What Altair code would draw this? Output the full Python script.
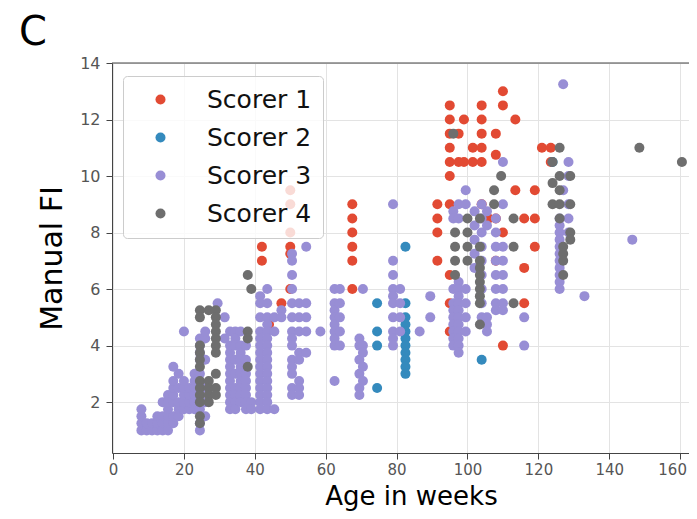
import altair as alt
import pandas as pd

# ---- data: (age in weeks, [manual FI values]) per scorer ----
scorer1 = [
    (42, [7.5, 7.0]), (44, [4.75]), (47.5, [5.5]),
    (50, [9.5, 9.0, 8.0, 7.5, 7.25, 6.0]),
    (67.5, [9.0, 8.5, 8.0, 7.5, 7.0, 6.0]),
    (91.5, [9.0, 8.5, 8.0, 7.0]),
    (95, [12.5, 12.0, 11.5, 11.0, 10.5, 10.0, 9.0, 6.5, 5.5, 4.5]),
    (97.5, [11.5, 10.5]), (99, [12.0, 10.5]), (101.5, [11.0, 10.5]),
    (104, [12.5, 12.0, 11.5, 11.0, 10.5, 9.0]), (106, [8.5]),
    (108, [11.5, 10.75, 8.5, 7.0]), (110, [13.0, 12.5, 8.0, 4.0]),
    (113.5, [12.0, 9.5]), (116, [8.5, 6.75, 5.5]), (119, [9.5, 8.5, 7.5]),
    (121, [11.0]), (123.5, [11.0, 10.5]),
]
scorer2 = [
    (74.5, [5.5, 4.5, 4.0, 2.5]),
    (82.5, [7.5, 5.5, 5.0, 4.75, 4.5, 4.25, 4.0, 3.75, 3.5, 3.25, 3.0]),
    (104, [3.5]), (124, [10.5]),
]
scorer3 = [
    (8, [1.0, 1.25, 1.5, 1.75]), (9.5, [1.0, 1.25]), (11, [1.0, 1.25]),
    (12.5, [1.0, 1.25, 1.5]), (14, [1.0, 1.25, 1.5, 2.0]),
    (15.5, [1.0, 1.25, 1.5, 1.75, 2.0, 2.25]),
    (17, [1.25, 1.5, 2.0, 2.25, 2.5, 2.75, 3.25]),
    (18.5, [1.5, 1.75, 2.0, 2.5, 3.0]),
    (20, [1.75, 2.0, 2.25, 2.5, 2.75, 4.5]),
    (21.5, [1.75, 2.0, 2.25, 2.5]),
    (23, [1.75, 2.0, 2.25, 2.5, 2.75, 3.0]),
    (24.5, [1.0, 1.25, 1.75, 2.0, 3.0, 3.5, 3.75, 4.0, 4.25]),
    (26, [1.5, 2.0, 2.5, 3.5, 4.25, 4.5]),
    (29.5, [5.5]), (31.5, [5.0, 4.25]),
    (33, [4.5, 4.0, 3.75, 3.5, 3.25, 3.0, 2.75, 2.5, 2.25, 2.0, 1.75]),
    (34.5, [4.5, 4.25, 4.0, 3.5, 3.0, 2.5, 2.25, 2.0, 1.75]),
    (36, [4.5, 4.0, 3.75, 3.5, 3.25, 3.0, 2.75, 2.5, 2.25, 2.0]),
    (37.5, [4.0, 3.5, 3.0, 2.75, 2.5, 2.25, 2.0, 1.75]),
    (39, [2.0, 1.75]),
    (41.5, [5.75, 5.5, 5.0, 4.5, 4.25, 4.0, 3.75, 3.5, 3.25, 3.0, 2.75, 2.5, 2.25, 2.0, 1.75]),
    (43.5, [6.0, 5.5, 5.0, 4.75, 4.5, 4.25, 4.0, 3.75, 3.5, 3.25, 3.0, 2.75, 2.5, 2.25, 2.0, 1.75]),
    (45.5, [5.0, 4.5, 1.75]), (47.5, [5.25, 5.0]),
    (50.5, [7.25, 7.0, 6.5, 6.0, 5.5, 5.0, 4.5, 4.25, 4.0, 3.5, 3.25, 3.0, 2.5, 2.25]),
    (52.5, [5.5, 5.0, 4.5, 3.75, 3.5, 2.75, 2.5, 2.25]),
    (54.5, [7.5, 5.5, 5.0, 4.5, 3.75]), (58.5, [4.5]),
    (62.5, [6.0, 5.5, 5.25, 5.0, 4.75, 4.5, 4.25, 4.0, 2.75]),
    (64, [6.0, 5.5, 5.0, 4.5, 4.0]),
    (69.5, [4.25, 4.0, 3.5, 3.0, 2.5, 2.25]),
    (70.5, [6.0, 4.0, 3.75, 3.25, 2.75]),
    (79, [9.0, 7.0, 6.5, 6.0, 5.75, 5.5, 5.0, 4.5, 4.25, 4.0]),
    (81, [6.0, 5.5, 5.0, 4.5]),
    (86.5, [4.5]), (89.5, [5.75, 5.0]),
    (96, [8.75, 8.5, 6.0, 5.5, 5.25, 5.0, 4.75, 4.5, 4.25, 4.0]),
    (97.5, [9.0, 8.5, 6.25, 6.0, 5.75, 5.5, 5.25, 5.0, 4.75, 4.5, 4.25, 4.0, 3.75]),
    (99.5, [9.5, 9.0, 6.0, 5.5, 5.0, 4.5]),
    (102, [8.75, 8.25, 7.75, 7.25, 6.75]),
    (104, [9.0, 8.5, 8.0, 7.5, 7.0, 6.5, 6.0, 5.5, 5.0]),
    (105.5, [8.75, 8.25, 5.0, 4.75, 4.5]),
    (108, [8.5, 8.0, 7.5, 7.0, 6.5, 6.0, 5.5, 5.25]),
    (110, [10.5, 9.0, 7.5, 7.0, 6.5, 6.0, 5.5, 5.25]),
    (116, [5.0, 4.0]),
    (126, [8.5, 8.25, 8.0, 7.75, 7.5, 7.25, 7.0, 6.75, 6.5, 6.25, 6.0]),
    (127, [13.25, 9.5]), (128.5, [10.5, 10.0, 9.0, 8.5, 8.0]),
    (133, [5.75]), (146.5, [7.75]),
]
scorer4 = [
    (24.5, [5.25, 5.0, 4.0, 3.75, 3.5, 3.25, 2.75, 2.5, 2.25, 2.0, 1.5, 1.25]),
    (27, [5.25, 2.75, 2.5, 2.25, 2.0]),
    (29, [5.25, 5.0, 4.75, 4.5, 4.25, 4.0, 3.75, 3.0, 2.5, 2.25]),
    (38, [6.5, 4.5, 4.25, 3.25]), (39, [6.0]),
    (96, [11.5]), (96.5, [8.0, 7.5, 7.0, 6.5]), (100, [8.5, 8.0, 7.5, 7.0]),
    (103.5, [8.5, 7.5, 7.0, 6.75, 6.5, 6.25, 6.0, 5.75, 5.5, 4.75]),
    (107.5, [9.5, 9.0]), (109.5, [10.0]), (113, [8.5, 7.5, 5.5]),
    (124, [10.5, 9.75, 9.0]), (126, [11.0, 10.0, 9.5, 9.0, 8.5]),
    (127, [7.5, 7.25, 7.0, 6.5]), (129, [10.0, 9.0, 8.0, 7.75]),
    (148.5, [11.0]), (160.5, [10.5]),
]

scorer_names = ["Scorer 1", "Scorer 2", "Scorer 3", "Scorer 4"]
scorer_colors = ["#E24A33", "#348ABD", "#988ED5", "#6E6E6E"]
x_ticks = [0, 20, 40, 60, 80, 100, 120, 140, 160]
y_ticks = [2, 4, 6, 8, 10, 12, 14]
x_domain = [-0.3, 162.5]
y_domain = [0.2, 14]

rows = []
for order, (name, groups) in enumerate(zip(scorer_names, [scorer1, scorer2, scorer3, scorer4])):
    for week, values in groups:
        for v in values:
            rows.append({"week": week, "fi": v, "scorer": name, "order": order})
df = pd.DataFrame(rows)

FONT = "DejaVu Sans"

points = alt.Chart(df).mark_circle(size=100, opacity=1).encode(
    x=alt.X("week:Q", scale=alt.Scale(domain=x_domain, nice=False, zero=False),
            axis=alt.Axis(values=x_ticks, title="Age in weeks", labelFontSize=15,
                          labelColor="#555555", labelPadding=3, tickSize=6,
                          labelOffset={"condition": {"test": "datum.value == 160", "value": -8},
                                       "value": 0},
                          tickColor="#444444", domainColor="#444444", gridColor="#e3e3e3",
                          titleFontSize=26, titleFontWeight="normal", titleColor="black",
                          titlePadding=6, titleX=299, labelFont=FONT, titleFont=FONT)),
    y=alt.Y("fi:Q", scale=alt.Scale(domain=y_domain, nice=False, zero=False),
            axis=alt.Axis(values=y_ticks, title="Manual FI", labelFontSize=16,
                          labelColor="#555555", labelPadding=6, tickSize=6,
                          tickColor="#444444", domainColor="#444444", gridColor="#e3e3e3",
                          titleFontSize=30, titleFontWeight="normal", titleColor="black",
                          titlePadding=12, labelFont=FONT, titleFont=FONT)),
    color=alt.Color("scorer:N",
                    scale=alt.Scale(domain=scorer_names, range=scorer_colors),
                    legend=alt.Legend(title=None, orient="none", legendX=11, legendY=13,
                                      fillColor="rgba(255,255,255,0.8)", strokeColor="#cccccc",
                                      cornerRadius=4, padding=11, labelFontSize=25,
                                      labelFont=FONT, labelColor="#111111",
                                      symbolType="circle", symbolSize=100,
                                      symbolStrokeWidth=0, rowPadding=12,
                                      symbolOffset=14, labelOffset=34)),
    order=alt.Order("order:Q"),
)

top_frame = alt.Chart(pd.DataFrame({"fi": [y_domain[1]]})).mark_rule(
    color="#444444", strokeWidth=1
).encode(y="fi:Q")

chart = alt.layer(points, top_frame).properties(
    width=577, height=390,
    title=alt.TitleParams("C", anchor="start", frame="group", fontSize=40, font=FONT,
                          fontWeight="normal", color="black", dx=-93, offset=2),
    autosize=alt.AutoSizeParams(type="none"),
    padding={"left": 104, "top": 55, "right": 0, "bottom": 58},
).configure_view(strokeWidth=0)

chart.save("out.html", embed_options={"renderer": "svg", "actions": False})
